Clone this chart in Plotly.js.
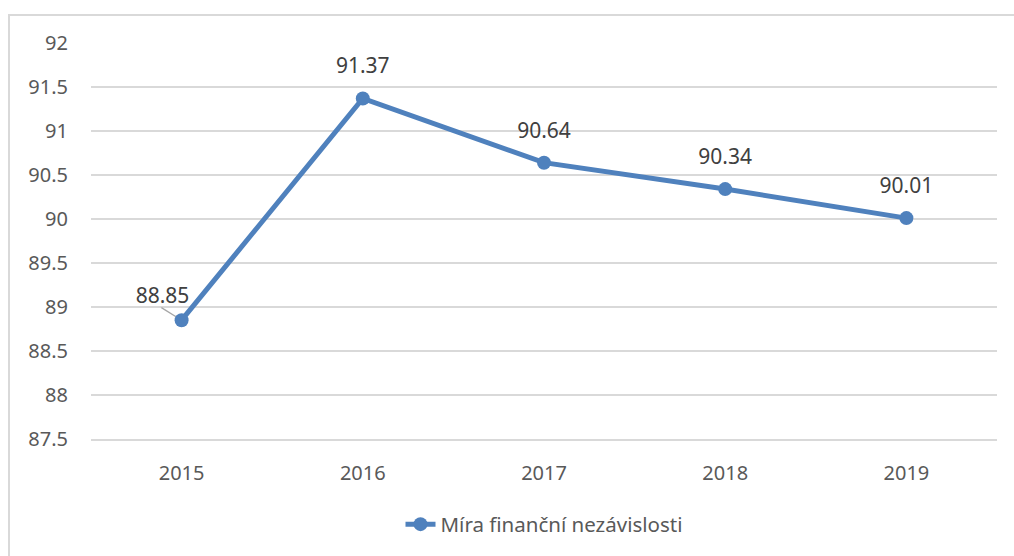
<!DOCTYPE html>
<html>
<head>
<meta charset="utf-8">
<script src="https://cdn.plot.ly/plotly-3.0.1.min.js"></script>
<style>
html,body{margin:0;padding:0;background:#fff;}
#frame{position:absolute;left:8px;top:14px;width:1100px;height:600px;border-left:2px solid #d9d9d9;border-top:2px solid #d9d9d9;}
#chart{position:absolute;left:0;top:0;width:1014px;height:556px;}
</style>
</head>
<body>
<div id="frame"></div>
<div id="chart"></div>
<script>
const years = ['2015', '2016', '2017', '2018', '2019'];
const values = [88.85, 91.37, 90.64, 90.34, 90.01];
const labels = ['88.85', '91.37', '90.64', '90.34', '90.01'];
const seriesName = 'Míra finanční nezávislosti';
const yTicks = [87.5, 88, 88.5, 89, 89.5, 90, 90.5, 91, 91.5, 92];

const FONT = 'Noto Sans, Open Sans, sans-serif';
const BLUE = '#4f81bd';

// leader line of the first (displaced) data label
const leaderTrace = {
  x: years.slice(0, 1),
  y: values.slice(0, 1),
  type: 'scatter',
  mode: 'markers',
  showlegend: false,
  hoverinfo: 'none',
  marker: {
    symbol: 'line-ns', size: 14, angle: 122, standoff: 14,
    color: '#a6a6a6', line: {color: '#a6a6a6', width: 1.3}
  },
  cliponaxis: false
};

const lineTrace = {
  x: years,
  y: values,
  type: 'scatter',
  mode: 'lines+markers',
  name: seriesName,
  line: {color: BLUE, width: 5},
  marker: {color: BLUE, size: 14},
  hoverinfo: 'none'
};

// the first label sits left of its point (padded with no-break spaces on the right)
const PAD = '\u00a0'.repeat(7);
const labelTrace = {
  x: years,
  y: values,
  type: 'scatter',
  mode: 'markers+text',
  showlegend: false,
  text: labels.map((t, i) => i === 0 ? t + PAD : t),
  textposition: 'top center',
  textfont: {family: FONT, size: 21, color: '#404040'},
  marker: {color: BLUE, opacity: 0, size: [17, 30, 30, 30, 30], line: {width: 0}},
  hoverinfo: 'none',
  cliponaxis: false
};

const layout = {
  width: 1014, height: 556,
  margin: {l: 91, r: 17, t: 43, b: 114},
  paper_bgcolor: 'rgba(0,0,0,0)',
  plot_bgcolor: 'rgba(0,0,0,0)',
  font: {family: FONT, color: '#595959', size: 20},
  showlegend: true,
  hovermode: false,
  legend: {
    orientation: 'h', x: 0.5, xanchor: 'center', y: -0.165, yanchor: 'top',
    font: {family: FONT, size: 20.5, color: '#595959'}
  },
  xaxis: {
    type: 'category', range: [-0.5, 4.5],
    showgrid: false, zeroline: false,
    showline: true, linecolor: '#d9d9d9', linewidth: 1.5,
    ticks: '', ticklabelstandoff: 15,
    tickfont: {family: FONT, size: 20, color: '#595959'},
    fixedrange: true
  },
  yaxis: {
    range: [87.5, 92], tickvals: yTicks, ticktext: yTicks.map(String),
    showgrid: true, gridcolor: '#d9d9d9', gridwidth: 1.5,
    zeroline: false, showline: false, ticks: '',
    ticklabelstandoff: 22,
    tickfont: {family: FONT, size: 20, color: '#595959'},
    fixedrange: true
  }
};

Plotly.newPlot('chart', [leaderTrace, lineTrace, labelTrace], layout, {displayModeBar: false});
</script>
</body>
</html>
